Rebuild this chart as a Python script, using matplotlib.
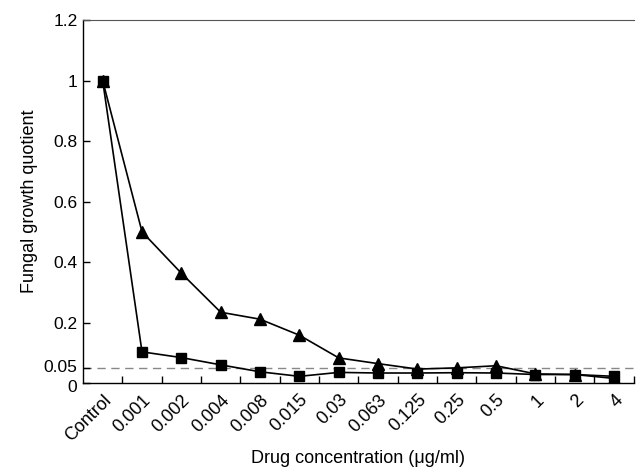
import numpy as np
import matplotlib.pyplot as plt
from matplotlib.transforms import ScaledTranslation

plt.rcParams['font.family'] = ['Liberation Sans', 'DejaVu Sans']

# Data
concentrations = ['Control', '0.001', '0.002', '0.004', '0.008', '0.015', '0.03',
                  '0.063', '0.125', '0.25', '0.5', '1', '2', '4']
triangle_vals = [1.0, 0.50, 0.363, 0.234, 0.211, 0.158, 0.083,
                 0.064, 0.046, 0.050, 0.057, 0.030, 0.028, 0.015]
square_vals = [1.0, 0.103, 0.084, 0.060, 0.037, 0.022, 0.035,
               0.033, 0.033, 0.034, 0.033, 0.028, 0.028, 0.022]
y_ticks = [0, 0.05, 0.2, 0.4, 0.6, 0.8, 1, 1.2]
y_labels = ['0', '0.05', '0.2', '0.4', '0.6', '0.8', '1', '1.2']
cutoff = 0.05

fig = plt.figure(figsize=(6.36, 4.69), dpi=100)
ax = fig.add_axes([0.1305, 0.1834, 0.866, 0.7736])

x = np.arange(len(concentrations))
ax.axhline(cutoff, color='#888888', linestyle=(0, (6, 4)), linewidth=1.0, zorder=1)
ax.plot(x, triangle_vals, '-^', color='black', markersize=8, linewidth=1.2, zorder=3)
ax.plot(x, square_vals, '-s', color='black', markersize=7.5, linewidth=1.2, zorder=3)

ax.set_xlim(-0.5, 13.28)
ax.set_ylim(0, 1.2)
ax.set_yticks(y_ticks)
ax.set_yticklabels(y_labels, fontsize=12.5)
ax.set_xticks(x)
ax.set_xticklabels(concentrations, rotation=45, ha='right', rotation_mode='anchor', fontsize=13)
ax.set_xticks(x + 0.5, minor=True)
ax.tick_params(axis='x', which='major', length=0, pad=6)
ax.tick_params(axis='x', which='minor', direction='in', length=5, width=1)
ax.tick_params(axis='y', direction='in', length=5, width=1, pad=4)

# "0" and "0.05" sit very close; nudge them apart a little
labels = ax.get_yticklabels()
labels[0].set_transform(labels[0].get_transform() + ScaledTranslation(0, -2 / 72, fig.dpi_scale_trans))
labels[1].set_transform(labels[1].get_transform() + ScaledTranslation(0, 1.5 / 72, fig.dpi_scale_trans))

ax.spines['right'].set_visible(False)
ax.spines['top'].set_color('#555555')
for s in ['left', 'bottom']:
    ax.spines[s].set_linewidth(1.0)

ax.set_ylabel('Fungal growth quotient', fontsize=13, labelpad=4)
ax.set_xlabel('Drug concentration (\u03bcg/ml)', fontsize=13, labelpad=4)

fig.savefig('out.png', dpi=100)
